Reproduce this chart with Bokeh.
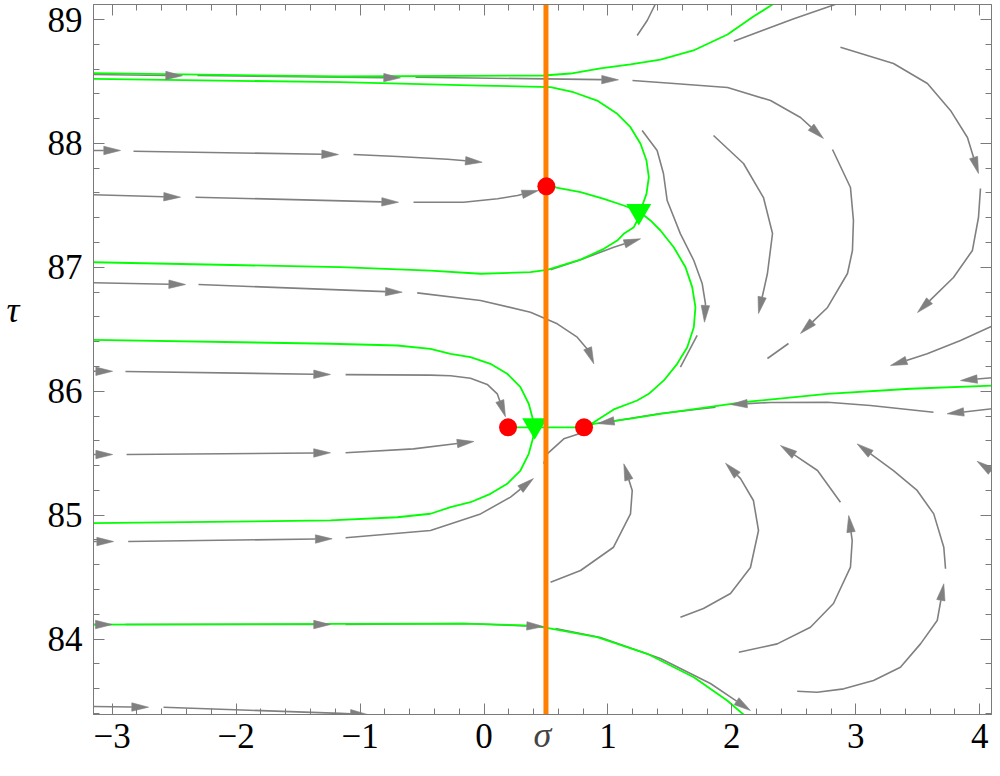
import math
from bokeh.plotting import figure
from bokeh.models import Range1d, FixedTicker, LinearAxis
from bokeh.embed import file_html
from bokeh.resources import INLINE

# ---------------- data (sigma, tau) ----------------
x_ticks = [-3, -2, -1, 0, 1, 2, 3, 4]
x_tick_labels = ["\u22123", "\u22122", "\u22121", "0", "1", "2", "3", "4"]
y_ticks = [84, 85, 86, 87, 88, 89]
y_tick_labels = ["84", "85", "86", "87", "88", "89"]
x_title = "\u03c3"
y_title = "\u03c4"
y_title_tau = 86.655

sigma_lim = (-3.151, 4.095)
tau_lim = (83.391, 89.121)

# fixed points (red) and marked points (green triangles)
red_sigma = [0.194, 0.503, 0.807]
red_tau = [85.709, 87.654, 85.709]
tri_sigma = [1.249, 0.409]
tri_tau = [87.453, 85.724]
orange_sigma = 0.5

# gray stream segments ending with an arrow head
s1a = [(-3.15, 88.556), (-2.433, 88.546)]
s1b = [(-2.312, 88.548), (-0.674, 88.529)]
s1c = [(-0.553, 88.534), (1.085, 88.513)]
s1d = [(1.198, 88.508), (1.505, 88.486), (1.965, 88.451), (2.312, 88.346), (2.554, 88.209), (2.739, 88.040)]
s1e = [(2.812, 87.951), (2.957, 87.644), (2.981, 87.378), (2.973, 87.136), (2.933, 86.950), (2.772, 86.676), (2.554, 86.466)]
s2a = [(-3.15, 87.943), (-2.933, 87.943)]
s2b = [(-2.828, 87.937), (-1.174, 87.910)]
s2c = [(-1.053, 87.910), (-0.698, 87.894), (-0.294, 87.872), (-0.015, 87.848)]
s3a = [(-3.15, 87.585), (-2.449, 87.566)]
s3b = [(-2.328, 87.566), (-0.690, 87.525)]
s3c = [(-0.569, 87.525), (-0.165, 87.525), (0.109, 87.553), (0.270, 87.580), (0.440, 87.620)]
s4a = [(-3.15, 86.875), (-2.408, 86.861)]
s4b = [(-2.304, 86.861), (-0.660, 86.799)]
s4c = [(-0.539, 86.794), (-0.028, 86.732), (0.375, 86.638), (0.591, 86.544), (0.752, 86.436), (0.843, 86.329), (0.886, 86.221)]
s5a = [(-3.15, 86.161), (-2.997, 86.161)]
s5b = [(-2.893, 86.159), (-1.239, 86.135)]
s5c = [(-1.117, 86.134), (-0.432, 86.130), (-0.270, 86.125), (-0.109, 86.105), (0.026, 86.055), (0.107, 85.979), (0.173, 85.794)]
s6a = [(-3.15, 85.489), (-2.997, 85.489)]
s6b = [(-2.884, 85.489), (-1.239, 85.503)]
s6c = [(-1.117, 85.503), (-0.569, 85.535), (-0.082, 85.594)]
s7a = [(-3.15, 84.787), (-2.989, 84.787)]
s7b = [(-2.871, 84.787), (-1.225, 84.809)]
s7c = [(-1.117, 84.817), (-0.432, 84.876), (-0.028, 85.010), (0.214, 85.145), (0.399, 85.295)]
s8a = [(-3.15, 84.117), (-3.0, 84.117)]
s8b = [(-2.893, 84.117), (-1.239, 84.117)]
s8c = [(-1.117, 84.117), (-0.165, 84.125), (0.480, 84.101)]
s8d = [(0.577, 84.085), (0.940, 84.012), (1.424, 83.843), (1.827, 83.641), (2.150, 83.423)]
s9a = [(-3.15, 83.455), (-2.707, 83.450)]
s9b = [(-2.586, 83.450), (-1.158, 83.400), (-0.942, 83.392)]
s12a = [(2.876, 88.776), (3.304, 88.645), (3.578, 88.483), (3.764, 88.266), (3.901, 88.048), (3.990, 87.757)]
s12b = [(4.006, 87.636), (3.990, 87.402), (3.941, 87.136), (3.788, 86.918), (3.498, 86.635)]
s13 = [(1.852, 88.064), (2.094, 87.838), (2.255, 87.563), (2.328, 87.273), (2.287, 86.950), (2.215, 86.627)]
s14a = [(1.276, 88.104), (1.397, 87.943), (1.448, 87.757), (1.478, 87.539), (1.585, 87.270), (1.693, 87.055),
        (1.761, 86.867), (1.787, 86.705), (1.779, 86.557)]
s15 = [(4.141, 86.544), (3.845, 86.409), (3.576, 86.302), (3.280, 86.207)]
s16 = [(4.141, 86.113), (3.845, 86.086)]
s17a = [(3.627, 85.830), (3.118, 85.885), (2.772, 85.911), (2.312, 85.909), (1.989, 85.893)]
s17b = [(1.868, 85.871), (1.424, 85.820), (0.916, 85.739)]
s18 = [(4.141, 85.863), (3.737, 85.818)]
s19 = [(1.585, 84.176), (1.771, 84.246), (1.989, 84.367), (2.150, 84.577), (2.215, 84.876), (2.174, 85.118), (2.070, 85.295), (1.949, 85.419)]
s20a = [(2.056, 83.893), (2.366, 83.961), (2.634, 84.095), (2.820, 84.287), (2.957, 84.580), (2.971, 84.795), (2.943, 84.997)]
s20b = [(2.876, 85.104), (2.796, 85.215), (2.691, 85.360), (2.392, 85.562)]
s21a = [(2.527, 83.579), (2.688, 83.571), (2.903, 83.598), (3.143, 83.665), (3.360, 83.772), (3.522, 83.961), (3.657, 84.149), (3.710, 84.446)]
s21b = [(3.724, 84.567), (3.710, 84.741), (3.629, 85.010), (3.495, 85.199), (3.304, 85.360), (3.011, 85.575)]
s22 = [(4.141, 85.320), (3.979, 85.435)]
s23 = [(0.537, 84.458), (0.779, 84.553), (1.045, 84.741), (1.182, 85.010), (1.196, 85.199), (1.128, 85.414)]
s25 = [(0.537, 86.980), (0.779, 87.061), (1.047, 87.162), (1.263, 87.230)]

# gray stream segments without arrow head
s1f = [(2.457, 86.385), (2.287, 86.264)]
s10 = [(1.236, 88.871), (1.317, 88.992), (1.384, 89.127)]
s11 = [(2.015, 88.825), (2.500, 89.006), (2.850, 89.127)]
s14b = [(1.720, 86.450), (1.585, 86.194)]
s24 = [(0.482, 85.414), (0.510, 85.495), (0.644, 85.616), (0.805, 85.669)]

# green highlighted streamlines
g1 = [(-3.15, 88.567), (-1.158, 88.540), (0.480, 88.548), (0.698, 88.564), (0.940, 88.605), (1.182, 88.637),
      (1.424, 88.677), (1.690, 88.750), (1.965, 88.879), (2.174, 89.024), (2.328, 89.121)]
g2 = [(-3.15, 88.521), (-1.158, 88.494), (-0.028, 88.467), (0.537, 88.454), (0.722, 88.413), (0.913, 88.346),
      (1.075, 88.239), (1.182, 88.131), (1.263, 87.997), (1.311, 87.862), (1.330, 87.727), (1.311, 87.593),
      (1.263, 87.459)]
g3 = [(-3.15, 87.041), (-1.158, 87.001), (-0.432, 86.974), (-0.028, 86.948), (0.375, 86.961), (0.510, 86.980),
      (0.779, 87.062), (0.967, 87.149), (1.075, 87.216), (1.128, 87.270), (1.209, 87.324), (1.245, 87.394)]
g4 = [(-3.15, 86.415), (-1.239, 86.383), (-0.700, 86.369), (-0.432, 86.342), (-0.270, 86.302), (-0.109, 86.275),
      (0.052, 86.221), (0.187, 86.141), (0.294, 86.033), (0.361, 85.899), (0.397, 85.764), (0.397, 85.629),
      (0.361, 85.495), (0.294, 85.360), (0.187, 85.253), (0.052, 85.172), (-0.109, 85.104), (-0.270, 85.064),
      (-0.432, 85.011), (-0.700, 84.983), (-1.239, 84.957), (-3.15, 84.935)]
g5 = [(0.807, 85.709), (0.886, 85.737), (1.182, 85.778), (1.424, 85.818), (2.096, 85.912), (2.769, 85.979),
      (3.441, 86.020), (4.141, 86.046)]
g6 = [(-3.15, 84.117), (-1.158, 84.123), (-0.165, 84.125), (0.375, 84.109), (0.496, 84.093), (0.913, 84.015),
      (1.317, 83.881), (1.693, 83.692), (1.962, 83.504), (2.124, 83.365)]
g7 = [(0.503, 87.654), (0.563, 87.647), (0.779, 87.606), (0.967, 87.553), (1.128, 87.499), (1.249, 87.453),
      (1.343, 87.378), (1.424, 87.297), (1.531, 87.162), (1.626, 87.001), (1.680, 86.840), (1.706, 86.678),
      (1.693, 86.517), (1.640, 86.355), (1.559, 86.221), (1.451, 86.087), (1.330, 85.979), (1.236, 85.925),
      (1.047, 85.853), (0.886, 85.750), (0.807, 85.709)]
g8 = [(0.194, 85.709), (0.807, 85.709)]

arrowed = [s1a, s1b, s1c, s1d, s1e, s2a, s2b, s2c, s3a, s3b, s3c, s4a, s4b, s4c, s5a, s5b, s5c,
           s6a, s6b, s6c, s7a, s7b, s7c, s8a, s8b, s8c, s8d, s9a, s9b, s12a, s12b, s13, s14a,
           s15, s16, s17a, s17b, s18, s19, s20a, s20b, s21a, s21b, s22, s23, s25]
plain = [s1f, s10, s11, s14b, s24]
greens = [g1, g2, g3, g4, g5, g6, g7, g8]

# ---------------- styling ----------------
GRAY = "#808080"
GREEN = "#00ff00"
ORANGE = "#ff8000"
RED = "#ff0000"
FRAME = "#7a7a7a"
FONT = "Liberation Serif"
HEAD_LEN = 0.135
HEAD_HALF = 0.034

p = figure(width=992, height=760, x_range=Range1d(*sigma_lim), y_range=Range1d(*tau_lim),
           output_backend="svg", toolbar_location=None,
           x_axis_location=None, y_axis_location=None,
           min_border_left=93, min_border_right=1, min_border_top=4, min_border_bottom=46)
p.xgrid.visible = False
p.ygrid.visible = False
p.outline_line_color = FRAME
p.background_fill_color = "white"
p.border_fill_color = "white"

x_minor = [round(-3 + 0.2 * k, 1) for k in range(36) if k % 5 != 0]
y_minor = [round(83.4 + 0.2 * k, 1) for k in range(29) if (k + 2) % 5 != 0]


def make_axis(ticks, minor, labels, show):
    ax = LinearAxis(ticker=FixedTicker(ticks=ticks, minor_ticks=minor))
    ax.axis_line_color = FRAME
    ax.major_tick_line_color = FRAME
    ax.minor_tick_line_color = FRAME
    ax.major_tick_in = 11
    ax.major_tick_out = 0
    ax.minor_tick_in = 6
    ax.minor_tick_out = 0
    if show:
        ax.major_label_overrides = dict(zip(ticks, labels))
        ax.major_label_text_font = FONT
        ax.major_label_text_font_size = "35px"
        ax.major_label_text_color = "black"
    else:
        ax.major_label_overrides = {t: "" for t in ticks}
        ax.major_label_text_font_size = "0px"
        ax.major_label_standoff = 0
    return ax


xb = make_axis(x_ticks, x_minor, x_tick_labels, True)
xb.major_label_standoff = 9
xb.axis_label = x_title
xb.axis_label_text_font = FONT
xb.axis_label_text_font_style = "italic"
xb.axis_label_text_font_size = "36px"
xb.axis_label_standoff = -36
yl = make_axis(y_ticks, y_minor, y_tick_labels, True)
yl.major_label_standoff = 11
xt = make_axis(x_ticks, x_minor, x_tick_labels, False)
yr = make_axis(y_ticks, y_minor, y_tick_labels, False)

# outer left axis that only carries the tau title
ytitle = LinearAxis(ticker=FixedTicker(ticks=[y_title_tau], minor_ticks=[]))
ytitle.major_label_overrides = {y_title_tau: y_title}
ytitle.major_label_text_font = FONT
ytitle.major_label_text_font_style = "italic"
ytitle.major_label_text_font_size = "36px"
ytitle.major_label_text_color = "black"
ytitle.axis_line_color = None
ytitle.major_tick_line_color = None
ytitle.minor_tick_line_color = None
ytitle.major_tick_in = 0
ytitle.major_tick_out = 0
ytitle.major_label_standoff = 25

p.add_layout(xb, "below")
p.add_layout(yl, "left")
p.add_layout(ytitle, "left")
p.add_layout(xt, "above")
p.add_layout(yr, "right")

# ---------------- build glyph geometry ----------------
line_xs, line_ys, head_xs, head_ys = [], [], [], []
for seg in arrowed:
    (x0, y0), (x1, y1) = seg[-2], seg[-1]
    d = math.hypot(x1 - x0, y1 - y0)
    ux, uy = (x1 - x0) / d, (y1 - y0) / d
    bx, by = x1 - HEAD_LEN * ux, y1 - HEAD_LEN * uy
    nx, ny = -uy, ux
    line_xs.append([pt[0] for pt in seg[:-1]] + [bx])
    line_ys.append([pt[1] for pt in seg[:-1]] + [by])
    head_xs.append([x1, bx + HEAD_HALF * nx, bx - HEAD_HALF * nx])
    head_ys.append([y1, by + HEAD_HALF * ny, by - HEAD_HALF * ny])
for seg in plain:
    line_xs.append([pt[0] for pt in seg])
    line_ys.append([pt[1] for pt in seg])

p.multi_line(line_xs, line_ys, line_color=GRAY, line_width=1.6)
p.multi_line([[pt[0] for pt in g] for g in greens], [[pt[1] for pt in g] for g in greens],
             line_color=GREEN, line_width=1.8)
p.patches(head_xs, head_ys, fill_color=GRAY, line_color=GRAY, line_width=0.6)
p.scatter(tri_sigma, tri_tau, marker="inverted_triangle", size=25, fill_color=GREEN, line_color=None)
p.segment(x0=[orange_sigma], y0=[tau_lim[0]], x1=[orange_sigma], y1=[tau_lim[1]],
          line_color=ORANGE, line_width=5)
p.scatter(red_sigma, red_tau, marker="circle", size=18, fill_color=RED, line_color=None)

open("out.html", "w").write(file_html(p, INLINE))
